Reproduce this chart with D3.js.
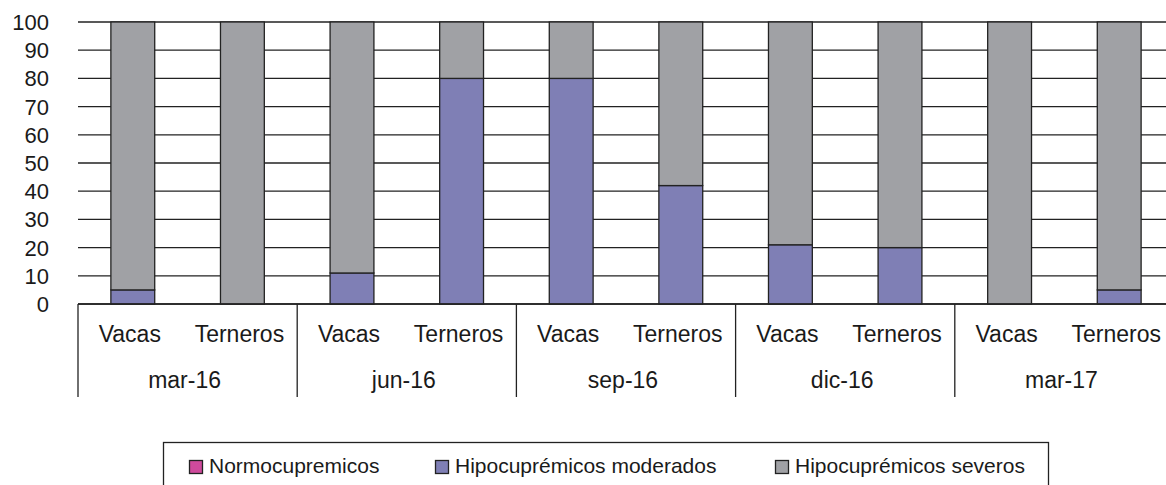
<!DOCTYPE html>
<html lang="es">
<head>
<meta charset="UTF-8">
<title>Cupremia</title>
<style>
  body { margin: 0; background: #fff; }
  text { font-family: "Liberation Sans", Arial, sans-serif; fill: #1a1a1a; }
  .tick-label { font-size: 22px; }
  .cat-label { font-size: 23px; }
  .legend-label { font-size: 21px; }
</style>
</head>
<body>
<div id="chart"></div>
<script src="https://d3js.org/d3.v7.min.js"></script>
<script>
// ## Data
const periods = ["mar-16", "jun-16", "sep-16", "dic-16", "mar-17"];
const animals = ["Vacas", "Terneros"];
const normocupremicos = [0, 0, 0, 0, 0, 0, 0, 0, 0, 0];
const hipoModerados  = [5, 0, 11, 80, 80, 42, 21, 20, 0, 5];
const hipoSeveros    = [95, 100, 89, 20, 20, 58, 79, 80, 100, 95];
const yTicks = [0, 10, 20, 30, 40, 50, 60, 70, 80, 90, 100];

const seriesNames = ["Normocupremicos", "Hipocuprémicos moderados", "Hipocuprémicos severos"];
const seriesColors = ["#cf4a9c", "#7f7fb5", "#a0a1a5"];

// ## Dimensions
const dims = {
  width: 1166,
  height: 485,
  left: 78,
  right: 1174,
  top: 22,
  bottom: 304,
  axisDepth: 397
};

// one row per (period, animal)
const rows = [];
periods.forEach((p, i) => {
  animals.forEach((a, j) => {
    const k = i * animals.length + j;
    rows.push({
      key: p + "|" + a, period: p, animal: a,
      "Normocupremicos": normocupremicos[k],
      "Hipocuprémicos moderados": hipoModerados[k],
      "Hipocuprémicos severos": hipoSeveros[k]
    });
  });
});

const svg = d3.select("#chart").append("svg")
  .attr("width", dims.width)
  .attr("height", dims.height);

// ## Scales
const xScale = d3.scaleBand()
  .domain(rows.map(d => d.key))
  .range([dims.left, dims.right])
  .paddingInner(0.6)
  .paddingOuter(0.3);

const yScale = d3.scaleLinear()
  .domain([0, 100])
  .range([dims.bottom, dims.top]);

// ## Gridlines + y labels
svg.append("g")
  .selectAll("line")
  .data(yTicks)
  .join("line")
  .attr("x1", dims.left)
  .attr("x2", dims.width)
  .attr("y1", d => yScale(d))
  .attr("y2", d => yScale(d))
  .attr("stroke", "#222")
  .attr("stroke-width", 1.3);

svg.append("g")
  .selectAll("text")
  .data(yTicks)
  .join("text")
  .attr("class", "tick-label")
  .attr("x", 49)
  .attr("y", d => yScale(d))
  .attr("dy", "0.36em")
  .attr("text-anchor", "end")
  .text(d => d);

// ## Stacked bars
const stack = d3.stack().keys(seriesNames)(rows);

svg.append("g")
  .selectAll("g")
  .data(stack)
  .join("g")
  .attr("fill", (d, i) => seriesColors[i])
  .selectAll("rect")
  .data(d => d.filter(s => s[1] - s[0] > 0))
  .join("rect")
  .attr("x", d => xScale(d.data.key))
  .attr("width", xScale.bandwidth())
  .attr("y", d => yScale(d[1]))
  .attr("height", d => yScale(d[0]) - yScale(d[1]))
  .attr("stroke", "#222")
  .attr("stroke-width", 1.3);

// ## Category axis (two levels)
const step = xScale.step();
const groupEdge = i => dims.left + i * animals.length * step;

svg.append("line")
  .attr("x1", dims.left).attr("x2", dims.width)
  .attr("y1", dims.bottom).attr("y2", dims.bottom)
  .attr("stroke", "#222").attr("stroke-width", 1.3);

svg.append("g")
  .selectAll("line")
  .data(d3.range(periods.length + 1))
  .join("line")
  .attr("x1", d => groupEdge(d))
  .attr("x2", d => groupEdge(d))
  .attr("y1", dims.bottom)
  .attr("y2", dims.axisDepth)
  .attr("stroke", "#222")
  .attr("stroke-width", 1.3);

svg.append("g")
  .selectAll("text")
  .data(rows)
  .join("text")
  .attr("class", "cat-label")
  .attr("x", d => xScale(d.key) + xScale.bandwidth() / 2 - 3)
  .attr("y", 342)
  .attr("text-anchor", "middle")
  .text(d => d.animal);

svg.append("g")
  .selectAll("text")
  .data(periods)
  .join("text")
  .attr("class", "cat-label")
  .attr("x", (d, i) => (groupEdge(i) + groupEdge(i + 1)) / 2 - 3)
  .attr("y", 388)
  .attr("text-anchor", "middle")
  .text(d => d);

// ## Legend
const legend = svg.append("g");
legend.append("rect")
  .attr("x", 163.5).attr("y", 442.5)
  .attr("width", 885).attr("height", 60)
  .attr("fill", "none")
  .attr("stroke", "#222")
  .attr("stroke-width", 1.3);

const legendX = [189, 435, 775];
seriesNames.forEach((name, i) => {
  legend.append("rect")
    .attr("x", legendX[i] + 0.5).attr("y", 460.5)
    .attr("width", 13).attr("height", 13)
    .attr("fill", seriesColors[i])
    .attr("stroke", "#222")
    .attr("stroke-width", 1.3);
  legend.append("text")
    .attr("class", "legend-label")
    .attr("x", legendX[i] + 20)
    .attr("y", 473)
    .text(name);
});
</script>
</body>
</html>
